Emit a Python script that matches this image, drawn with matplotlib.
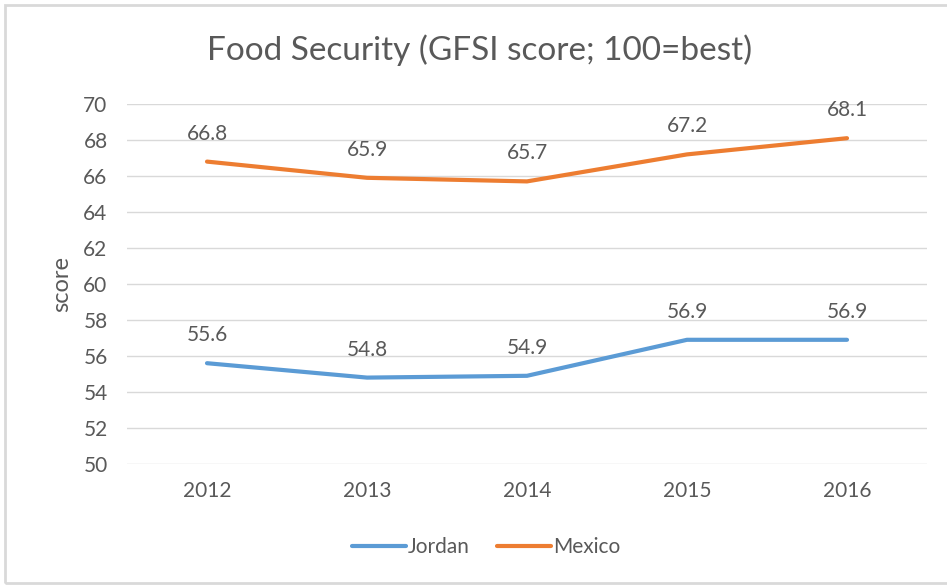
import numpy as np
import matplotlib.pyplot as plt
from matplotlib.patches import Rectangle

years = ['2012', '2013', '2014', '2015', '2016']
jordan = [55.6, 54.8, 54.9, 56.9, 56.9]
mexico = [66.8, 65.9, 65.7, 67.2, 68.1]

plt.rcParams['font.family'] = ['Lato', 'DejaVu Sans']
txt = '#595959'

fig = plt.figure(figsize=(9.47, 5.86), dpi=100)
ax = fig.add_axes([127 / 947, 1 - 464 / 586, 800 / 947, 360 / 586])

x = np.arange(len(years))
ax.plot(x, jordan, color='#5B9BD5', lw=3, solid_capstyle='round', label='Jordan', zorder=3)
ax.plot(x, mexico, color='#ED7D31', lw=3, solid_capstyle='round', label='Mexico', zorder=3)

for xi, v in zip(x, jordan):
    ax.annotate(f'{v:.1f}', (xi, v), xytext=(0, 13), textcoords='offset points',
                ha='center', va='bottom', fontsize=15, color=txt)
for xi, v in zip(x, mexico):
    ax.annotate(f'{v:.1f}', (xi, v), xytext=(0, 13), textcoords='offset points',
                ha='center', va='bottom', fontsize=15, color=txt)

ax.set_xlim(-0.5, 4.5)
ax.set_ylim(50, 70)
ax.set_yticks(np.arange(50, 71, 2))
ax.set_xticks(x)
ax.set_xticklabels(years)
ax.tick_params(length=0, labelsize=15, labelcolor=txt)
ax.tick_params(axis='y', pad=14)
ax.tick_params(axis='x', pad=12)
ax.grid(axis='y', color='#D9D9D9', lw=1)
ax.set_axisbelow(True)
for s in ax.spines.values():
    s.set_visible(False)

ax.set_ylabel('score', fontsize=17, color=txt, labelpad=8)
fig.text(480 / 947, 1 - 50 / 586, 'Food Security (GFSI score; 100=best)',
         ha='center', va='center', fontsize=24, color=txt)

fig.legend(loc='center', bbox_to_anchor=(486 / 947, 1 - 547 / 586), ncol=2,
           frameon=False, fontsize=15, labelcolor=txt, handlelength=2.6,
           handletextpad=0.1, columnspacing=1.3)

fig.patches.append(Rectangle((5 / 947, 3 / 586), 950 / 947, 578 / 586,
                             transform=fig.transFigure, fill=False,
                             edgecolor='#D9D9D9', lw=2))

fig.savefig('out.png', dpi=100)
